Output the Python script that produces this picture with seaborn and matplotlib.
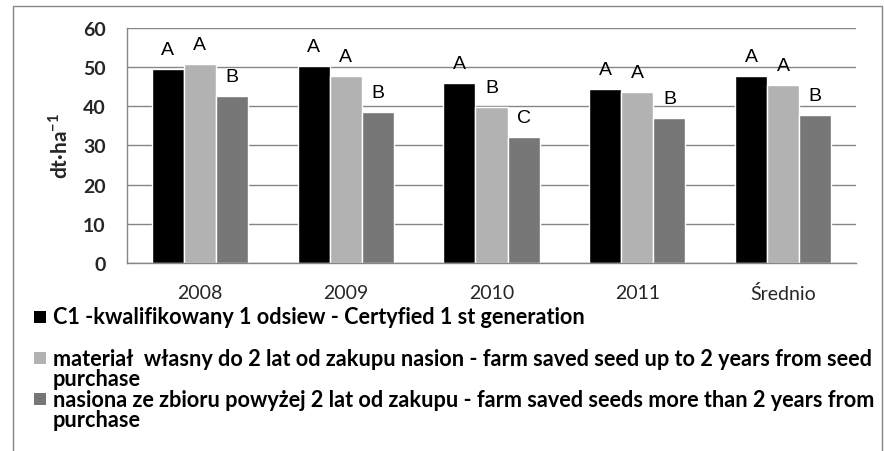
import matplotlib
matplotlib.use("Agg")
import matplotlib.pyplot as plt
import seaborn as sns
import pandas as pd
from matplotlib.patches import Rectangle

years = ["2008", "2009", "2010", "2011", "Średnio"]
series = [
    "C1 -kwalifikowany 1 odsiew - Certyfied 1 st generation\n",
    "materiał  własny do 2 lat od zakupu nasion - farm saved seed up to 2 years from seed\npurchase",
    "nasiona ze zbioru powyżej 2 lat od zakupu - farm saved seeds more than 2 years from\npurchase",
]
c1 = [49.5, 50.2, 45.8, 44.4, 47.7]
own_seed = [50.7, 47.7, 39.7, 43.6, 45.4]
old_seed = [42.6, 38.5, 32.2, 37.0, 37.8]
letters = [
    ["A", "A", "A", "A", "A"],
    ["A", "A", "B", "A", "A"],
    ["B", "B", "C", "B", "B"],
]
colors = ["#000000", "#b2b2b2", "#777777"]
grid_col = "#868686"

df = pd.DataFrame({
    "year": years * 3,
    "value": c1 + own_seed + old_seed,
    "series": [s for s in series for _ in years],
})

sns.set_style("white")
plt.rcParams["font.family"] = ["Lato", "DejaVu Sans"]
plt.rcParams["mathtext.fontset"] = "custom"
plt.rcParams["mathtext.bf"] = "Lato:bold"
plt.rcParams["mathtext.rm"] = "Lato"

fig = plt.figure(figsize=(8.85, 4.52), dpi=100)
ax = fig.add_axes([127 / 885, 1 - 264 / 452, (856 - 127) / 885, (264 - 28.7) / 452])

sns.barplot(data=df, x="year", y="value", hue="series", order=years,
            hue_order=series, palette=colors, saturation=1, width=0.66,
            gap=0, legend=False, ax=ax)

for bars, labs in zip(ax.containers, letters):
    for bar, lab in zip(bars, labs):
        ax.text(bar.get_x() + bar.get_width() / 2, bar.get_height() + 2.8, lab,
                ha="center", va="bottom", fontsize=14,
                family=["Liberation Sans", "DejaVu Sans"], color="black")

ax.set_ylim(0, 60)
ax.set_xlim(-0.5, len(years) - 0.5)
ax.set_yticks(range(0, 61, 10))
ax.yaxis.grid(True, color=grid_col, lw=1)
ax.set_axisbelow(True)
for side in ["top", "right"]:
    ax.spines[side].set_visible(False)
for side in ["left", "bottom"]:
    ax.spines[side].set_color(grid_col)
    ax.spines[side].set_linewidth(1)

ax.set_xticks([i - 0.5 for i in range(len(years) + 1)], minor=True)
ax.tick_params(axis="x", which="major", length=0, pad=15, labelsize=14)
ax.tick_params(axis="x", which="minor", length=6.5, color=grid_col, width=1)
ax.tick_params(axis="y", length=6.5, color=grid_col, width=1, pad=9,
               labelsize=14)
for t in ax.get_yticklabels():
    t.set_fontweight("bold")

ax.set_xlabel("")
ax.set_ylabel(r"dt·ha$^{\mathbf{-1}}$", fontsize=15, fontweight="bold")
ax.yaxis.set_label_coords(-0.076, 0.5)

# outer chart frame
fig.add_artist(Rectangle((13 / 885, -0.05), (882 - 13) / 885, 1.05 - 7 / 452,
                         transform=fig.transFigure, fill=False,
                         edgecolor=grid_col, lw=1))

# legend, one text line every ~20.6 px
line_h = 20.6 / 452
y0 = 1 - 318 / 452
for i, (label, col) in enumerate(zip(series, colors)):
    y = y0 - 2 * i * line_h
    fig.add_artist(Rectangle((34 / 885, y - 6 / 452), 12 / 885, 12 / 452,
                             transform=fig.transFigure, facecolor=col,
                             edgecolor="none"))
    for j, line in enumerate(label.split("\n")):
        fig.text(53 / 885, y - j * line_h, line, ha="left", va="center",
                 fontsize=15.6, fontweight="bold", color="black")

fig.savefig("out.png", dpi=100)
